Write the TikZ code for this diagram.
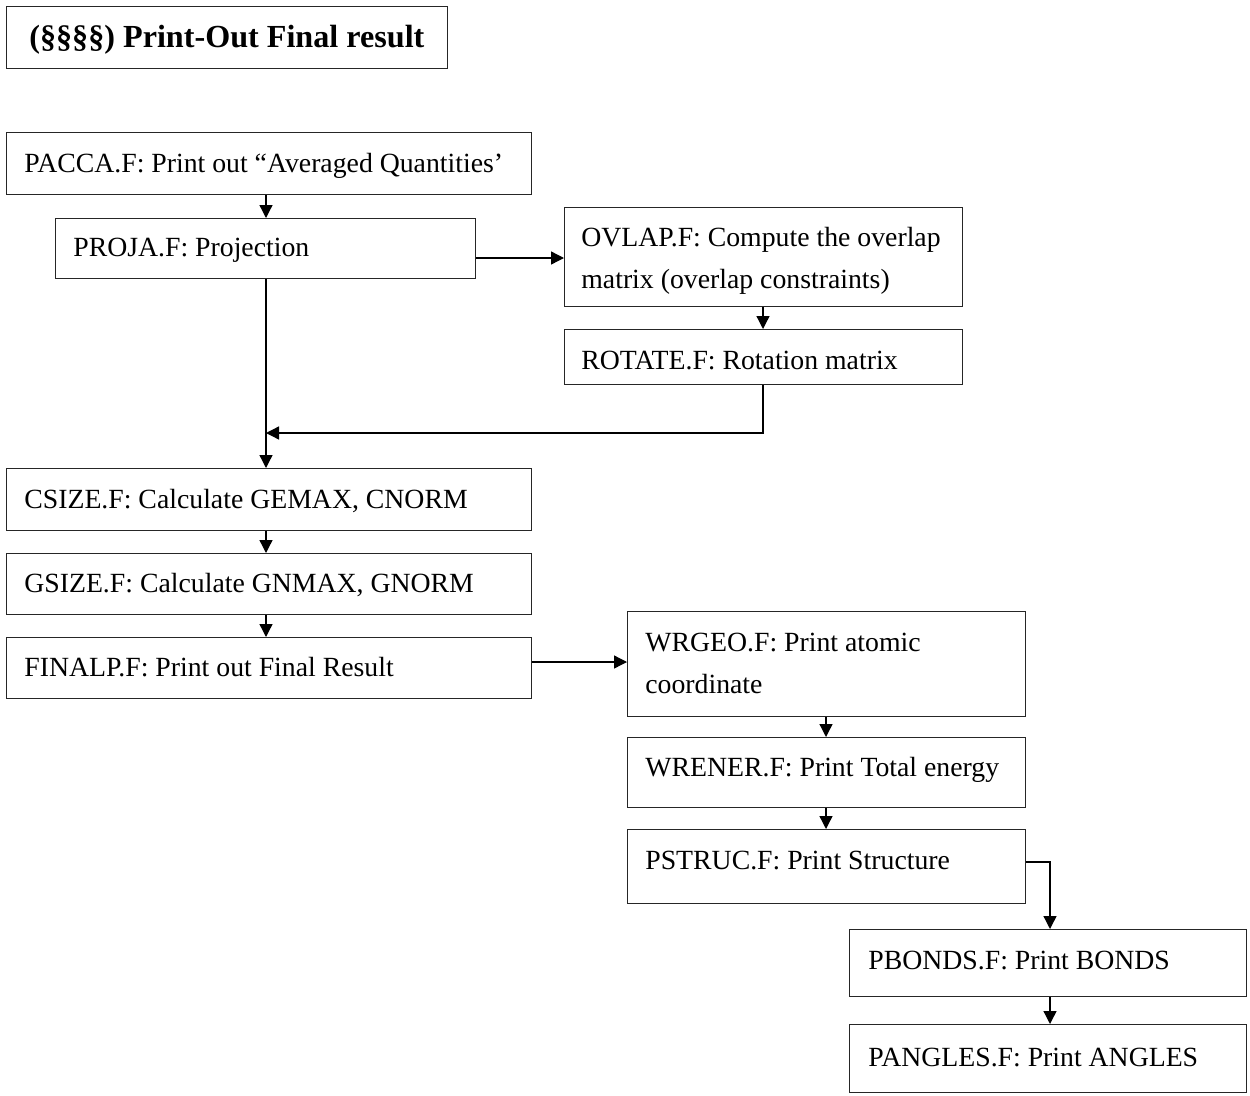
\documentclass[tikz,border=0pt]{standalone}
\usepackage{fontspec}
\setmainfont{Liberation Serif}
\usetikzlibrary{arrows.meta}
\begin{document}
\begin{tikzpicture}[x=0.02cm,y=-0.02cm,
  box/.style={draw=black!85, line width=0.8pt, rectangle, anchor=north west, inner sep=0pt},
  lbl/.style={anchor=base west, inner sep=0pt, font=\fontsize{15.8pt}{19pt}\selectfont},
  arr/.style={line width=0.75pt, -{Triangle[length=0.26cm,width=0.26cm]}},
  ln/.style={line width=0.75pt}]
\useasboundingbox (0,0) rectangle (1250,1095);

% title
\node[box, minimum width=441*0.02cm, minimum height=62*0.02cm] (title) at (6,6) {};
\node[anchor=base west, inner sep=0pt, font=\fontsize{18.3pt}{22pt}\selectfont\bfseries] (titletext) at (29,48) {(§§§§) Print-Out Final result};

% left column
\node[box, minimum width=525*0.02cm, minimum height=62*0.02cm] (pacca) at (6,132) {};
\node[lbl] (paccat) at (24,172) {PACCA.F: Print out “Averaged Quantities’};

\node[box, minimum width=420*0.02cm, minimum height=60*0.02cm] (proja) at (55,218) {};
\node[lbl] (projat) at (73,256) {PROJA.F: Projection};

\node[box, minimum width=398*0.02cm, minimum height=99*0.02cm] (ovlap) at (564,207) {};
\node[lbl] (ovlapt1) at (581,246) {OVLAP.F: Compute the overlap};
\node[lbl] (ovlapt2) at (581,288) {matrix (overlap constraints)};

\node[box, minimum width=398*0.02cm, minimum height=55*0.02cm] (rotate) at (564,329) {};
\node[lbl] (rotatet) at (581,369) {ROTATE.F: Rotation matrix};

\node[box, minimum width=525*0.02cm, minimum height=62*0.02cm] (csize) at (6,468) {};
\node[lbl] (csizet) at (24,508) {CSIZE.F: Calculate GEMAX, CNORM};

\node[box, minimum width=525*0.02cm, minimum height=61*0.02cm] (gsize) at (6,553) {};
\node[lbl] (gsizet) at (24,592) {GSIZE.F: Calculate GNMAX, GNORM};

\node[box, minimum width=525*0.02cm, minimum height=61*0.02cm] (finalp) at (6,637) {};
\node[lbl] (finalpt) at (24,676) {FINALP.F: Print out Final Result};

% right column
\node[box, minimum width=398*0.02cm, minimum height=105*0.02cm] (wrgeo) at (627,611) {};
\node[lbl] (wrgeot1) at (645,651) {WRGEO.F: Print atomic};
\node[lbl] (wrgeot2) at (645,693) {coordinate};

\node[box, minimum width=398*0.02cm, minimum height=70*0.02cm] (wrener) at (627,737) {};
\node[lbl] (wrenert) at (645,776) {WRENER.F: Print Total energy};

\node[box, minimum width=398*0.02cm, minimum height=74*0.02cm] (pstruc) at (627,829) {};
\node[lbl] (pstruct) at (645,869) {PSTRUC.F: Print Structure};

\node[box, minimum width=397*0.02cm, minimum height=67*0.02cm] (pbonds) at (849,929) {};
\node[lbl] (pbondst) at (868,969) {PBONDS.F: Print BONDS};

\node[box, minimum width=397*0.02cm, minimum height=68*0.02cm] (pangles) at (849,1024) {};
\node[lbl] (panglest) at (868,1066) {PANGLES.F: Print ANGLES};

% connectors
\coordinate (merge) at (266,433);
\draw[arr] (pacca.south -| merge) -- (proja.north -| merge);
\draw[arr] (proja.east |- 0,258) -- (ovlap.west |- 0,258);
\draw[arr] (ovlap.south -| 763,0) -- (rotate.north -| 763,0);
\draw[arr] (rotate.south -| 763,0) |- (merge);
\draw[arr] (proja.south -| merge) -- (csize.north -| merge);
\draw[arr] (csize.south -| merge) -- (gsize.north -| merge);
\draw[arr] (gsize.south -| merge) -- (finalp.north -| merge);
\draw[arr] (finalp.east |- 0,662) -- (wrgeo.west |- 0,662);
\draw[arr] (wrgeo.south -| 826,0) -- (wrener.north -| 826,0);
\draw[arr] (wrener.south -| 826,0) -- (pstruc.north -| 826,0);
\draw[arr] (pstruc.east |- 0,862) -| (pbonds.north -| 1050,0);
\draw[arr] (pbonds.south -| 1050,0) -- (pangles.north -| 1050,0);
\end{tikzpicture}
\end{document}
